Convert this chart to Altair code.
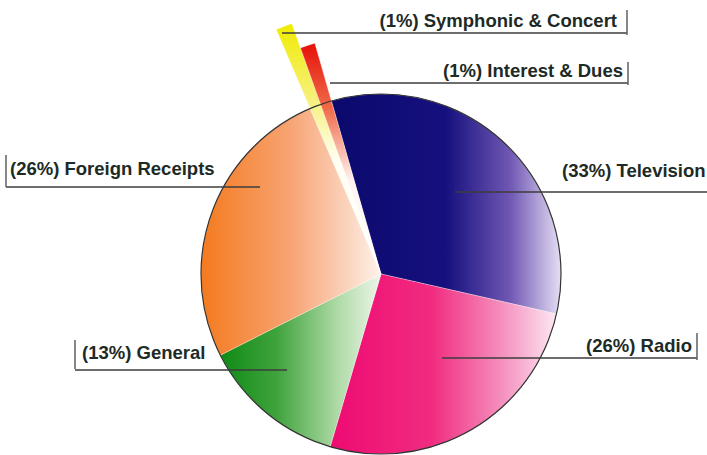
import math
import altair as alt
import pandas as pd

# ---- data ----
categories = ["Television", "Radio", "General", "Foreign Receipts",
              "Symphonic & Concert", "Interest & Dues"]
percents = [33, 26, 13, 26, 1, 1]
slice_order = [0, 1, 2, 3, 4, 5]
labels = [f"({p}%) {c}" for p, c in zip(percents, categories)]

# ---- layout (annotation placement, pixels) ----
cx, cy, R = 381, 274, 180
wedge_radius = {"Symphonic & Concert": 266, "Interest & Dues": 240}
start_deg = -16
label_x = [562, 692, 82, 10, 617, 623]
label_y = [177, 352, 359, 175, 27, 77]
label_align = ["left", "right", "left", "left", "right", "right"]
line_x1 = [455, 442, 75, 6, 282, 330]
line_x2 = [707, 697, 287, 260, 627, 628]
line_y = [192, 358, 370, 187, 33, 83]
bar_cat = ["Radio", "General", "Foreign Receipts", "Symphonic & Concert", "Interest & Dues"]
bar_x = [697, 75, 6, 627, 628]
bar_y1 = [333, 340, 155, 10, 62]
bar_y2 = [360, 369, 187, 35, 85]

def grad(stops, vertical=False):
    return alt.LinearGradient(
        gradient="linear",
        stops=[alt.GradientStop(offset=o, color=c) for o, c in stops],
        x1=0, y1=1 if vertical else 0, x2=1 if not vertical else 0, y2=0,
    )

fills = {
    "Television": grad([(0, "#0b096c"), (0.5, "#16107e"), (0.78, "#7058b4"), (1, "#e6def3")]),
    "Radio": grad([(0, "#ee0a72"), (0.45, "#f12c80"), (0.78, "#f597c2"), (1, "#fde8f2")]),
    "General": grad([(0, "#0f8a16"), (0.35, "#3fa33c"), (0.72, "#acd9a4"), (1, "#eef6ea")]),
    "Foreign Receipts": grad([(0, "#f47a1e"), (0.5, "#f7a474"), (0.85, "#fbd9c6"), (1, "#fff3ec")]),
    "Symphonic & Concert": grad([(0, "#ffffff"), (0.45, "#fffff2"), (0.7, "#f6f07a"), (1, "#f0ec00")], vertical=True),
    "Interest & Dues": grad([(0, "#ffffff"), (0.4, "#fff4f2"), (0.72, "#f06a48"), (1, "#e5120a")], vertical=True),
}

pie_df = pd.DataFrame({"category": categories, "pct": percents, "order": slice_order})
off = math.radians(start_deg) + 2 * math.pi
theta_scale = alt.Scale(domain=[0, 100], range=[off, off + 2 * math.pi])

base = (
    alt.Chart(pie_df)
    .transform_window(cum="sum(pct)", sort=[alt.SortField("order")])
    .transform_calculate(start="datum.cum - datum.pct")
)

layers = []
for cat in categories:
    r = wedge_radius.get(cat, R)
    layers.append(
        base.transform_filter(alt.datum.category == cat)
        .mark_arc(radius=r, fill=fills[cat], stroke="white", strokeWidth=0.3)
        .encode(
            theta=alt.Theta("start:Q", scale=theta_scale, stack=None),
            theta2="cum:Q",
            x=alt.value(cx),
            y=alt.value(cy),
        )
    )

outline = (
    alt.Chart(pd.DataFrame({"k": [0]}))
    .mark_arc(radius=R, fill="white", fillOpacity=0, stroke="#333333", strokeWidth=1.2)
    .encode(theta=alt.value(0), theta2=alt.value(2 * math.pi), x=alt.value(cx), y=alt.value(cy))
)

lab_df = pd.DataFrame({
    "label": labels, "lx": label_x, "ly": label_y, "align": label_align,
    "x1": line_x1, "x2": line_x2, "y": line_y,
})
bar_df = pd.DataFrame({"category": bar_cat, "bx": bar_x, "by1": bar_y1, "by2": bar_y2})

under = alt.Chart(lab_df).mark_rule(color="#3c3c3c", strokeWidth=1.3).encode(
    x=alt.X("x1:Q", scale=None), x2="x2:Q", y=alt.Y("y:Q", scale=None)
)
bars = alt.Chart(bar_df).mark_rule(color="#6a6a6a", strokeWidth=1.6).encode(
    x=alt.X("bx:Q", scale=None), y=alt.Y("by1:Q", scale=None), y2="by2:Q"
)

def text_layer(al):
    return (
        alt.Chart(lab_df)
        .transform_filter(alt.datum.align == al)
        .mark_text(align=al, baseline="alphabetic", font="Liberation Sans",
                   fontWeight="bold", fontSize=18.5, color="#1d2a25")
        .encode(x=alt.X("lx:Q", scale=None), y=alt.Y("ly:Q", scale=None), text="label:N")
    )

chart = (
    alt.layer(*layers, outline, under, bars, text_layer("left"), text_layer("right"))
    .properties(width=707, height=455, padding=0, autosize="none", background="white")
    .configure_view(strokeWidth=0)
)

chart.save("out.html", embed_options={"renderer": "svg", "actions": False})
